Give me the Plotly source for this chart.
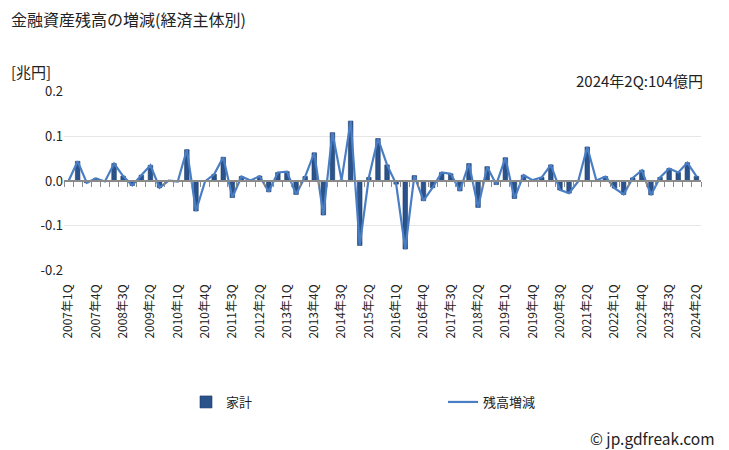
import plotly.graph_objects as go

quarters = [f"{y}年{q}Q" for y in range(2007, 2025) for q in range(1, 5)][:70]

household = [
    0.000, 0.044, -0.004, 0.006, -0.001, 0.039, 0.011, -0.010, 0.013, 0.035,
    -0.015, 0.001, -0.001, 0.070, -0.067, -0.001, 0.015, 0.053, -0.037, 0.010,
    0.001, 0.011, -0.024, 0.019, 0.021, -0.030, 0.010, 0.063, -0.076, 0.108,
    0.002, 0.134, -0.144, 0.008, 0.095, 0.036, -0.007, -0.152, 0.012, -0.044,
    -0.015, 0.019, 0.016, -0.022, 0.039, -0.059, 0.032, -0.008, 0.052, -0.039,
    0.013, 0.002, 0.008, 0.036, -0.020, -0.027, -0.001, 0.076, 0.001, 0.010,
    -0.016, -0.030, 0.007, 0.024, -0.031, 0.008, 0.028, 0.019, 0.041, 0.0104,
]
total_change = list(household)

tick_labels = quarters[::3]
y_ticks = [0.2, 0.1, 0.0, -0.1, -0.2]
y_tick_text = ["0.2", "0.1", "0.0", "-0.1", "-0.2"]

FONT = "Noto Sans CJK JP"
PLOT_W, PLOT_H, TOP, LEFT = 637, 180, 91, 64


def px(xp):
    return (xp - LEFT) / PLOT_W


def py(yp):
    return (TOP + PLOT_H - yp) / PLOT_H


fig = go.Figure()
fig.add_trace(go.Bar(
    x=quarters, y=household, name="家計",
    marker=dict(color="#2a528b", line=dict(color="#1b3a66", width=0.6)),
    legend="legend",
))
fig.add_trace(go.Scatter(
    x=quarters, y=total_change, name="残高増減", mode="lines",
    line=dict(color="#4a7ec4", width=2.2), legend="legend2",
))
# invisible trace to carry the zero-line axis with boundary ticks
fig.add_trace(go.Scatter(
    x=quarters, y=[0] * len(quarters), xaxis="x2", mode="lines",
    line=dict(width=0), hoverinfo="skip", showlegend=False,
))

fig.update_layout(
    width=729, height=450,
    margin=dict(l=LEFT, r=729 - LEFT - PLOT_W, t=TOP, b=450 - TOP - PLOT_H),
    paper_bgcolor="white", plot_bgcolor="white",
    font=dict(family=FONT, size=12, color="#222"),
    bargap=0.5,
    xaxis=dict(
        type="category", tickmode="array", tickvals=tick_labels, ticktext=tick_labels,
        tickangle=-90, showgrid=False, showline=False, zeroline=False,
        ticks="", ticklabelstandoff=10, tickfont=dict(size=12, color="#222"),
    ),
    xaxis2=dict(
        type="category", overlaying="x", anchor="free", position=0.5, side="bottom",
        matches="x", showticklabels=False, showgrid=False, showline=True,
        linecolor="#8a8a8a", linewidth=1.5, ticks="outside", ticklen=5,
        tickcolor="#8a8a8a", tickwidth=1, tickson="boundaries", dtick=1,
    ),
    yaxis=dict(
        range=[-0.2012, 0.2012], tickmode="array", tickvals=y_ticks, ticktext=y_tick_text,
        showgrid=True, gridcolor="#e6e6e6", gridwidth=1, zeroline=False,
        showline=False, ticks="", tickfont=dict(size=13, color="#222"),
    ),
    legend=dict(
        orientation="h", x=px(186), y=py(402), xanchor="left", yanchor="middle",
        font=dict(size=13), bgcolor="rgba(0,0,0,0)",
    ),
    legend2=dict(
        orientation="h", x=px(443), y=py(402), xanchor="left", yanchor="middle",
        font=dict(size=13), bgcolor="rgba(0,0,0,0)",
    ),
    annotations=[
        dict(text="金融資産残高の増減(経済主体別)", xref="paper", yref="paper",
             x=px(9), y=py(19), xanchor="left", yanchor="middle",
             showarrow=False, font=dict(size=16, color="#222")),
        dict(text="[兆円]", xref="paper", yref="paper",
             x=px(9), y=py(72), xanchor="left", yanchor="middle",
             showarrow=False, font=dict(size=15, color="#222")),
        dict(text="2024年2Q:104億円", xref="paper", yref="paper",
             x=px(705), y=py(80), xanchor="right", yanchor="middle",
             showarrow=False, font=dict(size=15, color="#222")),
        dict(text="© jp.gdfreak.com", xref="paper", yref="paper",
             x=px(717), y=py(438), xanchor="right", yanchor="middle",
             showarrow=False, font=dict(size=15.5, color="#222")),
    ],
)

fig.write_html("out.html")
